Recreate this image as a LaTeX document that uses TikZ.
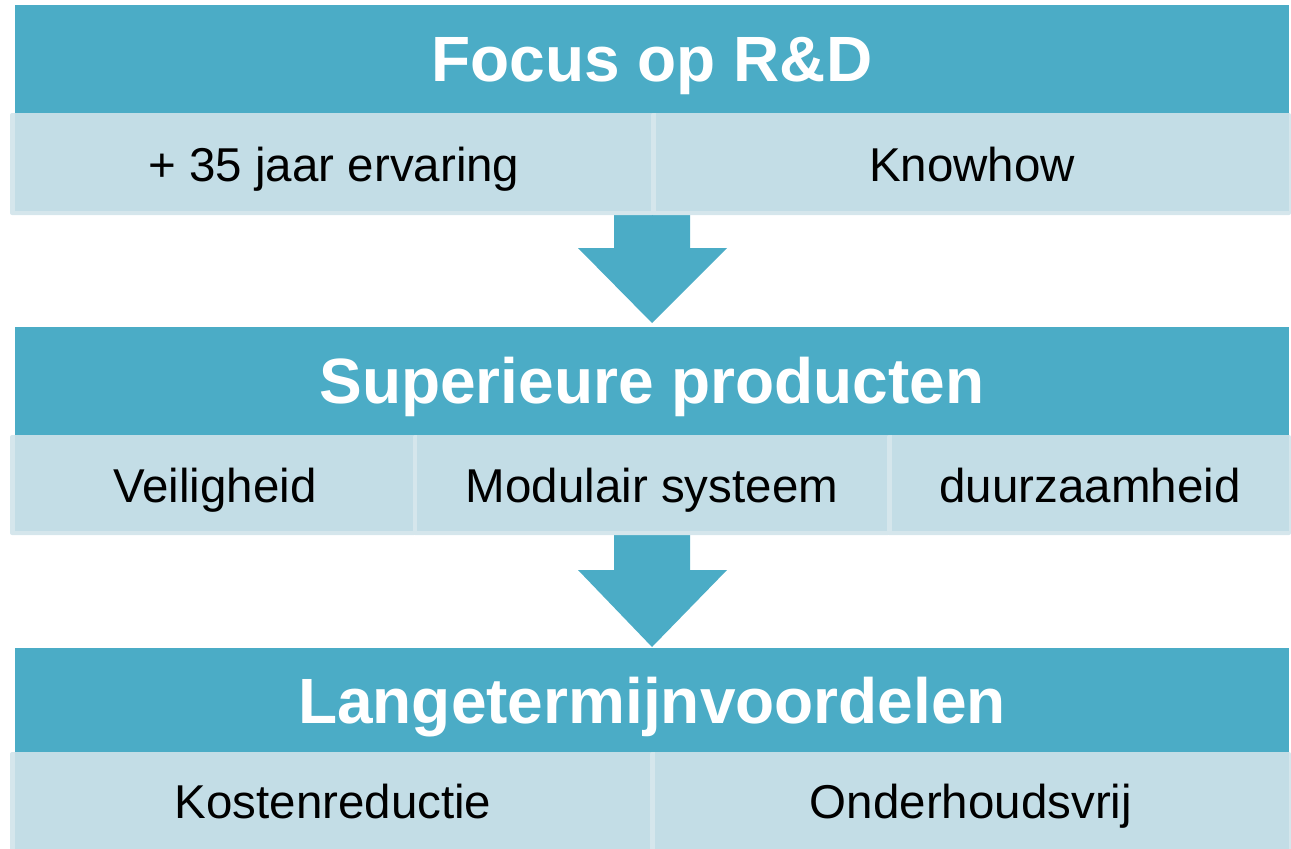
\documentclass[tikz,border=0pt]{standalone}
\usepackage{fontspec}
\setmainfont{Liberation Sans}
\definecolor{dark}{HTML}{4BACC6}
\definecolor{light}{HTML}{C3DDE6}
\definecolor{rim}{HTML}{D5E6EC}
\begin{document}
\begin{tikzpicture}[x=1pt,y=-1pt,
  titletext/.style={text=white,font=\fontsize{64}{70}\selectfont\bfseries,anchor=base,inner sep=0pt},
  itemtext/.style={text=black,font=\fontsize{47.5}{52}\selectfont,anchor=base,inner sep=0pt},
  band/.style={fill=dark},
  rimfill/.style={fill=rim,rounded corners=2pt},
  lightfill/.style={fill=light},
  downarrow/.style={fill=dark}]
\useasboundingbox (0,0) rectangle (1291,849);
% arrows (behind boxes)
\fill[downarrow] (614,212) -- (690,212) -- (690,248) -- (727,248) -- (652,323) -- (578,248) -- (614,248) -- cycle;
\fill[downarrow] (614,532) -- (690,532) -- (690,570) -- (727,570) -- (652,647) -- (578,570) -- (614,570) -- cycle;
% row 1
\fill[band] (15,5) rectangle (1289,113);
\fill[rimfill] (10,113) rectangle (654,215);
\fill[lightfill] (15,113) rectangle (654,211);
\fill[rimfill] (651,113) rectangle (1291,215);
\fill[lightfill] (656,113) rectangle (1289,211);
\node[titletext] (t1) at (652,81) {Focus op R\&D};
\node[itemtext] (a1) at (334,181) {+ 35 jaar ervaring};
\node[itemtext] (a2) at (972,181) {Knowhow};
% row 2
\fill[band] (15,327) rectangle (1289,435);
\fill[rimfill] (10,435) rectangle (416,535);
\fill[lightfill] (15,435) rectangle (416,531);
\fill[rimfill] (413,435) rectangle (890,535);
\fill[lightfill] (417,435) rectangle (890,531);
\fill[rimfill] (887,435) rectangle (1291,535);
\fill[lightfill] (892,435) rectangle (1289,531);
\node[titletext] (t2) at (652,403) {Superieure producten};
\node[itemtext] (b1) at (215,502) {Veiligheid};
\node[itemtext] (b2) at (652,502) {Modulair systeem};
\node[itemtext] (b3) at (1090,502) {duurzaamheid};
% row 3
\fill[band] (15,648) rectangle (1289,752);
\fill[rimfill] (10,752) rectangle (654,851);
\fill[lightfill] (15,752) rectangle (654,851);
\fill[rimfill] (650,752) rectangle (1291,851);
\fill[lightfill] (655,752) rectangle (1289,851);
\node[titletext] (t3) at (652,723) {Langetermijnvoordelen};
\node[itemtext] (c1) at (333,818) {Kostenreductie};
\node[itemtext] (c2) at (971,818) {Onderhoudsvrij};
\end{tikzpicture}
\end{document}
